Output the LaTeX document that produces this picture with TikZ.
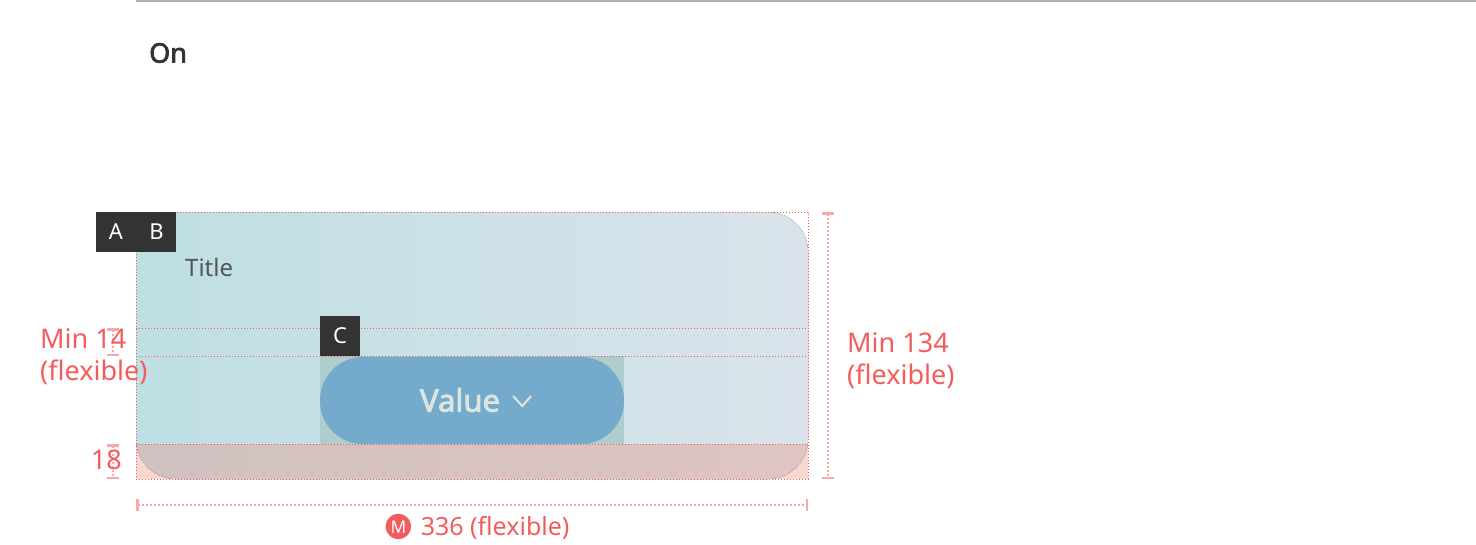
\documentclass[tikz,border=0pt]{standalone}
\usepackage{fontspec}
\setmainfont{Noto Sans}[AutoFakeBold=2.5]
\newfontfamily\symfont{Noto Emoji}
\usetikzlibrary{positioning}
\usetikzlibrary{arrows.meta}

\definecolor{specred}{HTML}{F25C5C}
\definecolor{specpink}{HTML}{F7A8A8}
\definecolor{tagdark}{HTML}{333333}
\definecolor{cardleft}{HTML}{BEDFE3}
\definecolor{cardright}{HTML}{DAE3EB}
\definecolor{padsalmon}{HTML}{F8D8CE}
\definecolor{padtint}{HTML}{E9968A}
\definecolor{slotgreen}{HTML}{AFCDCD}
\definecolor{pillblue}{HTML}{74AACC}
\definecolor{pilltext}{HTML}{DCE6DE}
\definecolor{titlegray}{HTML}{555555}
\definecolor{rulegray}{HTML}{B0B0B0}

\begin{document}
\begin{tikzpicture}[
    x=1pt, y=-1pt,
    tagbox/.style={fill=tagdark,text=white,minimum size=40pt,inner sep=0pt,
      font=\fontsize{22}{26}\selectfont},
    guide/.style={specred,dotted,line width=1pt},
    dimline/.style={specpink,dotted,line width=2pt,
      {Bar[width=12pt,line width=2.5pt]}-{Bar[width=12pt,line width=2.5pt]}},
    dimlabel/.style={text=specred,inner sep=0pt,align=left,
      font=\fontsize{27}{32}\selectfont}
    ]

    \useasboundingbox (0,0) rectangle (1476,544);
    \draw[rulegray,line width=2pt] (136,1) -- (1476,1);
    \node[anchor=west,inner sep=0pt,text=tagdark,font=\fontsize{27}{30}\selectfont\bfseries]
      (heading) at (149,53) {On};

    % card with padding area
    \fill[padsalmon] (136,444) rectangle (808,479);
    \fill[left color=cardleft,right color=cardright,rounded corners=40pt]
      (136,212) rectangle (808,479);
    \begin{scope}
      \clip (136,444) rectangle (808,479);
      \fill[padtint,opacity=0.4,rounded corners=40pt] (136,212) rectangle (808,479);
    \end{scope}
    \fill[slotgreen] (320,356) rectangle (624,444);
    \node[fill=pillblue,rounded corners=43pt,minimum width=304pt,minimum height=87pt,
      inner sep=0pt] (pill) at (472,400.5) {};
    \node[text=pilltext,inner sep=0pt,font=\fontsize{31}{34}\selectfont\bfseries]
      (valtext) at (460,400) {Value};
    \draw[pilltext,line width=2pt] ([shift={(13,-4)}]valtext.east) -- ++(9,10) -- ++(9,-10);

    % guides
    \draw[guide] (136,212) rectangle (808,479);
    \foreach \gy in {328,356,444}
      \draw[guide] (136,\gy) -- (808,\gy);

    \node[tagbox] (tagA) at (116,232) {A};
    \node[tagbox,right=0pt of tagA] (tagB) {B};
    \node[tagbox] (tagC) at (340,336) {C};
    \node[anchor=west,inner sep=0pt,text=titlegray,font=\fontsize{24}{28}\selectfont]
      (title) at (185,267) {Title};

    % dimensions
    \coordinate (hTop) at (828,212);
    \coordinate (hBot) at (828,479);
    \coordinate (gapTop) at (113,328);
    \coordinate (gapBot) at (113,356);
    \coordinate (padTop) at (113,444);
    \coordinate (padBot) at (113,479);
    \coordinate (wLeft) at (136,505);
    \coordinate (wRight) at (808,505);

    \path (hTop) edge[dimline] (hBot)
    (gapTop) edge[dimline] (gapBot)
    (padTop) edge[dimline] (padBot)
    (wLeft) edge[dimline] (wRight)
    ;

    \node[dimlabel,anchor=west] (hlabel) at (847,361) {Min 134\\(flexible)};
    \node[dimlabel,anchor=west] (gaplabel) at (40,357) {Min 14\\(flexible)};
    \node[dimlabel,anchor=east] (padlabel) at (122,460) {18};
    \node[dimlabel,font=\fontsize{25}{30}\selectfont] (wlabel) at (476,527)
      {{\symfont Ⓜ} 336 (flexible)};

  \end{tikzpicture}
\end{document}
